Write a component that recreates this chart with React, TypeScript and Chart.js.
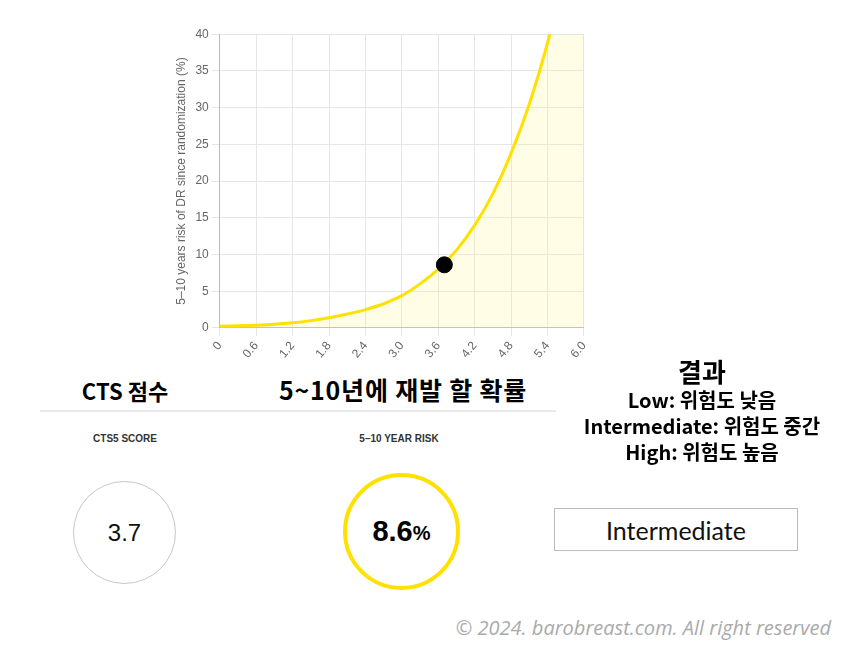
import React, { useEffect, useRef } from 'react';
import { Chart, registerables } from 'chart.js';

Chart.register(...registerables);

// CTS5 score (x) and 5-10 year risk of distant recurrence (y, %)
const ctsScores = [0, 0.3, 0.6, 0.9, 1.2, 1.5, 1.8, 2.1, 2.4, 2.7, 3.0, 3.3, 3.6, 3.9, 4.2, 4.5, 4.8, 5.1, 5.4, 5.7, 6.0];
const riskValues = [0.25, 0.3, 0.38, 0.5, 0.7, 1.0, 1.4, 1.9, 2.5, 3.3, 4.4, 6.0, 8.0, 10.6, 14.0, 18.3, 23.8, 30.5, 38.8, 48.5, 60];

// patient's result
const patientScore = [3.7];
const patientRisk = [8.6];
const resultLabel = 'Intermediate';

const YELLOW = '#ffe100';

const RiskChart: React.FC = () => {
  const canvasRef = useRef<HTMLCanvasElement>(null);

  useEffect(() => {
    if (!canvasRef.current) return;
    const chart = new Chart(canvasRef.current, {
      type: 'line',
      data: {
        datasets: [
          {
            type: 'scatter',
            data: patientScore.map((x, i) => ({ x, y: patientRisk[i] })),
            backgroundColor: '#000',
            borderColor: '#000',
            pointRadius: 8,
            order: 0,
          },
          {
            data: ctsScores.map((x, i) => ({ x, y: riskValues[i] })),
            borderColor: YELLOW,
            borderWidth: 3,
            backgroundColor: 'rgba(255, 240, 100, 0.16)',
            fill: 'origin',
            pointRadius: 0,
            tension: 0.35,
            order: 1,
          },
        ],
      },
      options: {
        animation: false,
        responsive: true,
        maintainAspectRatio: false,
        plugins: { legend: { display: false }, tooltip: { enabled: false } },
        scales: {
          x: {
            type: 'linear',
            min: 0,
            max: 6,
            ticks: {
              stepSize: 0.6,
              color: '#666',
              font: { size: 12 },
              minRotation: 50,
              maxRotation: 50,
              callback: (v: any) => (Number(v) === 0 ? '0' : Number(v).toFixed(1)),
            },
            grid: { color: '#e6e6e6' },
            border: { color: '#bbb' },
          },
          y: {
            min: 0,
            max: 40,
            ticks: { stepSize: 5, color: '#666', font: { size: 12 } },
            grid: { color: '#e6e6e6' },
            border: { color: '#bbb' },
            title: {
              display: true,
              text: '5–10 years risk of DR since randomization (%)',
              color: '#666',
              font: { size: 12 },
            },
          },
        },
      },
    } as any);
    return () => chart.destroy();
  }, []);

  return (
    <div style={{ position: 'absolute', left: 170, top: 24, width: 428, height: 340 }}>
      <canvas ref={canvasRef}></canvas>
    </div>
  );
};

const kr = '"Noto Sans CJK KR", "Noto Sans", sans-serif';

const App: React.FC = () => {
  useEffect(() => {
    document.body.style.margin = '0';
  }, []);

  return (
    <div style={{ position: 'relative', width: 848, height: 662, background: '#fff', overflow: 'hidden', fontFamily: kr }}>
      <RiskChart />

      <div style={{ position: 'absolute', left: 25, width: 200, top: 372, textAlign: 'center', fontSize: 22, fontWeight: 700, lineHeight: '36px' }}>CTS 점수</div>
      <div style={{ position: 'absolute', left: 243, width: 320, top: 371, textAlign: 'center', fontSize: 25, fontWeight: 700, lineHeight: '36px', letterSpacing: 0.8 }}>5~10년에 재발 할 확률</div>
      <div style={{ position: 'absolute', left: 40, width: 516, top: 410, height: 2, background: '#e8e8e8' }} />

      <div style={{ position: 'absolute', left: 25, width: 200, top: 433, textAlign: 'center', fontSize: 10, fontWeight: 600, fontFamily: 'Liberation Sans, Arial, sans-serif', color: '#333' }}>CTS5 SCORE</div>
      <div style={{ position: 'absolute', left: 299, width: 200, top: 433, textAlign: 'center', fontSize: 10, fontWeight: 600, fontFamily: 'Liberation Sans, Arial, sans-serif', color: '#333' }}>5–10 YEAR RISK</div>

      <div style={{ position: 'absolute', left: 73, top: 481, width: 101, height: 101, borderRadius: '50%', border: '1px solid #c8c8c8', display: 'flex', alignItems: 'center', justifyContent: 'center', fontFamily: 'Liberation Sans, Arial, sans-serif', fontSize: 24, color: '#111' }}>
        {patientScore[0].toFixed(1)}
      </div>
      <div style={{ position: 'absolute', left: 343, top: 473, width: 109, height: 109, borderRadius: '50%', border: `4px solid ${YELLOW}`, display: 'flex', alignItems: 'center', justifyContent: 'center', fontFamily: 'Liberation Sans, Arial, sans-serif', fontWeight: 700, color: '#000' }}>
        <span style={{ fontSize: 29 }}>{patientRisk[0].toFixed(1)}</span>
        <span style={{ fontSize: 20, marginTop: 4 }}>%</span>
      </div>

      <div style={{ position: 'absolute', left: 549, width: 306, top: 353, textAlign: 'center', fontWeight: 700, color: '#000' }}>
        <div style={{ fontSize: 26, lineHeight: '36px' }}>결과</div>
        <div style={{ fontSize: 20, lineHeight: '26px', marginTop: -2 }}>Low: 위험도 낮음</div>
        <div style={{ fontSize: 20, lineHeight: '26px' }}>Intermediate: 위험도 중간</div>
        <div style={{ fontSize: 20, lineHeight: '26px' }}>High: 위험도 높음</div>
      </div>

      <div style={{ position: 'absolute', left: 554, top: 508, width: 242, height: 41, border: '1.5px solid #bbb', display: 'flex', alignItems: 'center', justifyContent: 'center', fontFamily: 'Lato, "Noto Sans", sans-serif', fontSize: 25, color: '#111' }}>
        {resultLabel}
      </div>

      <div style={{ position: 'absolute', right: 17, top: 614, fontSize: 20, fontStyle: 'italic', color: '#aaa', fontFamily: '"Open Sans", sans-serif' }}>
        © 2024. barobreast.com. All right reserved
      </div>
    </div>
  );
};

export default App;
